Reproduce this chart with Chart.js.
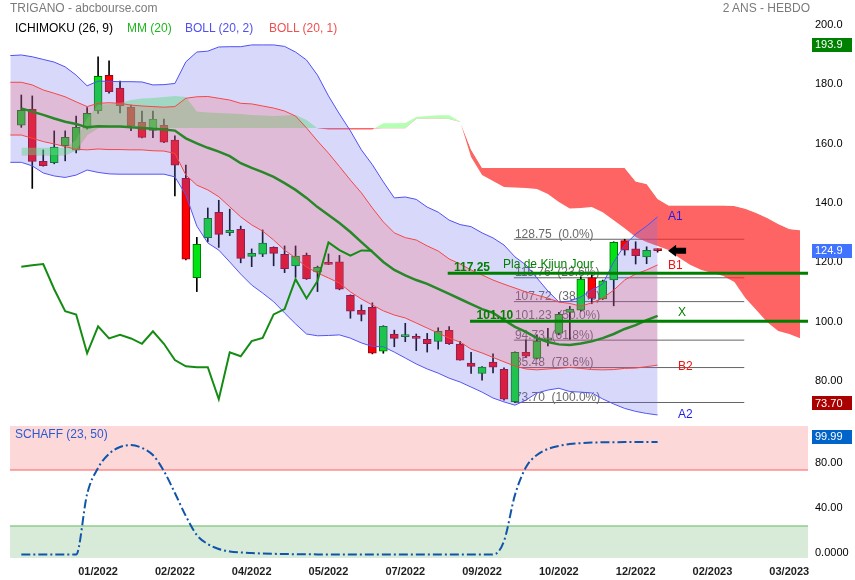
<!DOCTYPE html>
<html><head><meta charset="utf-8">
<script src="https://cdn.jsdelivr.net/npm/chart.js@4.4.0/dist/chart.umd.min.js"></script>
<style>
html,body{margin:0;padding:0;background:#fff;}
body{width:855px;height:580px;overflow:hidden;position:relative;font-family:"Liberation Sans",Arial,Helvetica,sans-serif;}
canvas{position:absolute;left:0;}
#cTop{top:0;}
#cBot{top:426px;}
.t{position:absolute;font-size:12px;line-height:14px;white-space:nowrap;}
</style></head><body>
<canvas id="cTop" width="855" height="426"></canvas>
<canvas id="cBot" width="855" height="154"></canvas>
<div class="t" style="left:10px;top:1px;color:#7a7a7a">TRIGANO - abcbourse.com</div>
<div class="t" style="right:45px;top:1px;color:#7a7a7a">2 ANS - HEBDO</div>
<div class="t" style="left:15px;top:21px;color:#000">ICHIMOKU (26, 9)</div>
<div class="t" style="left:127px;top:21px;color:#1cb81c">MM (20)</div>
<div class="t" style="left:185px;top:21px;color:#5050f0">BOLL (20, 2)</div>
<div class="t" style="left:269px;top:21px;color:#f05050">BOLL (20, 1)</div>
<div class="t" style="left:15px;top:427px;color:#2a5ad2">SCHAFF (23, 50)</div>
<script>
// ---------------- DATA ----------------
// weekly candles, index 0..58
const opens  = [167.2,172.6,155.0,154.6,160.3,158.8,166.2,172.1,184.0,179.7,173.3,168.2,165.5,167.2,162.2,149.3,115.8,129.3,137.8,131.0,132.1,123.0,123.7,126.0,123.7,119.8,123.3,117.7,120.8,121.1,109.8,104.8,105.8,91.0,96.8,95.9,95.8,95.0,94.3,98.0,93.4,87.0,83.5,87.3,84.9,74.0,90.6,88.6,94.8,97.0,104.1,104.8,115.8,108.6,115.0,128.3,125.5,122.8,125.0];
const highs  = [177.4,177.1,158.9,165.3,165.3,170.3,173.2,190.3,188.9,182.1,174.0,172.0,172.0,169.3,163.6,153.8,129.4,139.3,141.9,138.9,133.2,125.5,131.9,126.2,126.5,126.5,124.1,119.7,123.8,123.3,110.0,106.6,107.3,99.6,98.1,100.4,96.8,97.0,98.9,99.3,94.3,90.6,85.8,90.1,85.4,90.8,94.8,96.5,98.7,104.1,106.1,116.1,116.7,115.0,127.9,128.75,127.9,126.2,125.5];
const lows   = [166.5,145.9,153.4,154.2,155.2,157.9,165.9,171.2,178.0,171.4,165.4,162.9,163.0,161.3,143.4,121.8,111.1,127.9,126.0,130.0,120.8,119.5,122.9,119.8,117.5,115.9,115.2,111.1,120.2,111.7,102.1,101.2,90.1,90.3,92.5,94.2,91.2,90.7,91.7,93.3,88.0,83.5,81.2,83.7,74.5,73.7,89.0,88.4,92.8,96.5,95.0,104.5,107.0,108.4,106.3,123.4,120.4,120.5,124.4];
const closes = [172.2,155.0,153.6,159.8,163.1,166.5,171.2,183.7,178.5,173.8,167.0,163.1,169.2,161.5,153.7,122.0,127.0,135.8,130.4,131.8,122.3,124.0,127.5,124.0,118.8,123.1,115.4,119.3,120.3,111.9,104.5,103.4,90.3,99.4,95.3,96.5,95.3,93.5,97.7,93.5,88.0,85.9,85.6,85.6,74.8,90.6,89.3,94.4,95.5,103.4,105.2,115.3,108.8,114.7,127.7,125.1,123.2,125.0,124.9];

// Bollinger bands, index -1..58
const bandStart = -1;
const bollUp2 = [190.7,190.9,190.3,189.4,188.5,186.9,184.1,180.5,182.1,182.0,181.9,181.9,181.8,180.8,180.9,181.3,188.6,191.9,192.2,193.6,193.7,193.7,194.3,194.3,194.3,193.8,191.9,189.2,184.1,177.1,171.0,165.3,158.9,153.9,148.1,142.7,143.0,142.2,139.6,137.9,135.2,133.7,133.0,130.9,129.2,126.8,122.8,120.1,115.7,111.3,107.6,107.9,109.3,111.6,113.7,121.1,126.8,130.5,133.2,136.3];
const bollLo2 = [154.7,154.7,153.5,151.1,150.1,149.6,150.4,152.1,151.3,150.8,150.7,150.7,150.7,150.7,150.7,149.8,143.7,133.2,127.5,125.1,121.1,117.0,113.3,110.6,107.7,103.9,100.2,96.8,96.2,96.3,96.5,95.4,93.8,92.6,92.5,90.7,88.7,86.7,85.0,83.6,81.9,80.6,78.9,77.2,75.2,73.9,72.8,74.5,76.9,77.9,78.5,77.4,77.2,76.9,74.9,73.2,71.7,70.7,70.0,69.5];
const bollUp1 = [181.7,181.7,180.8,179.1,178.0,176.8,175.1,173.5,174.6,174.8,174.6,174.0,173.7,173.5,173.3,173.5,176.3,176.8,176.9,176.3,175.7,174.6,174.4,173.7,173.0,172.0,170.3,166.3,161.9,157.8,153.3,148.7,144.4,139.3,134.6,130.9,129.3,128.5,126.5,124.8,122.1,120.4,118.4,116.7,115.0,113.6,112.3,111.0,109.9,108.9,107.6,107.1,106.2,107.3,108.9,111.6,115.0,117.0,118.4,120.1];
const bollLo1 = [163.9,163.9,162.8,161.7,160.9,160.0,159.1,158.9,159.2,159.0,159.0,158.9,158.9,158.6,158.5,157.7,150.4,147.0,145.4,143.1,139.7,136.3,133.6,131.5,128.5,125.1,122.4,119.4,117.4,115.7,114.0,111.0,108.6,106.6,104.6,103.2,102.2,100.5,98.8,97.1,95.4,94.1,91.7,90.4,88.9,87.4,86.0,85.0,84.7,85.0,85.2,85.5,85.2,84.8,84.7,84.8,85.2,85.3,85.8,86.3];
// MM(20), index 0..58
const mm20 = [172.9,171.8,170.7,169.5,168.4,167.6,166.5,166.9,166.8,166.8,166.5,166.3,166.0,165.8,165.4,162.8,161.1,159.6,158.3,156.8,154.4,152.8,151.4,149.8,147.7,145.4,142.7,139.6,136.9,134.2,131.2,127.8,124.5,121.1,118.4,116.6,115.0,113.7,112.0,110.3,108.6,106.9,105.2,103.9,101.5,99.2,97.5,95.4,94.1,93.3,93.1,93.6,94.3,95.4,96.8,98.5,99.8,101.5,102.9];
// Ichimoku: chikou (index 0..32), senkou A / B (index 0..71)
const chikou = [119.5,120.0,120.4,111.9,104.5,103.4,90.3,99.4,95.3,96.5,95.3,93.5,97.7,93.5,88.0,85.9,85.6,85.6,74.8,90.6,89.3,94.4,95.5,103.4,105.2,115.3,108.8,114.7,127.7,125.1,123.2,125.0,124.9];
const senkouA = [159.6,159.6,159.6,159.6,159.6,162.2,169.6,174.0,174.4,174.7,175.7,176.2,176.4,176.7,177.1,176.7,171.8,171.5,171.3,171.2,171.0,170.7,170.5,170.3,170.5,170.7,169.0,166.2,165.8,165.8,165.8,165.8,165.8,167.9,167.9,168.0,170.0,170.3,170.6,170.6,168.5,156.5,150.4,148.4,146.4,146.2,146.0,145.7,144.0,141.3,139.1,139.3,139.6,137.9,135.2,132.5,129.5,127.8,126.5,125.1,122.4,120.1,118.4,117.4,116.4,114.3,108.9,104.9,100.8,97.8,96.8,95.4];
const senkouB = [157.1,157.1,157.1,157.1,157.1,158.8,163.9,166.3,166.3,166.3,166.3,166.3,166.3,166.3,166.3,166.3,166.3,166.3,166.3,166.3,166.3,166.3,166.3,166.3,166.3,166.3,166.3,166.3,166.3,166.3,166.3,166.3,166.3,166.2,166.2,166.2,169.3,169.5,169.5,169.3,168.3,158.9,152.8,152.8,152.8,152.8,152.8,152.8,152.8,152.8,152.8,152.8,152.8,152.8,152.8,152.8,148.2,147.4,142.3,140.1,140.1,140.1,140.1,140.1,140.1,140.0,139.0,137.6,135.9,133.9,132.2,131.8];
// Schaff (23,50), index 0..58
const schaff = [0,0,0,0,0,0,53.8,77,89.5,95.6,97.3,94.7,88.4,74.2,54.7,34.2,17.3,9.3,4.9,2.7,1.8,1.3,0.9,0.6,0.4,0.3,0.2,0.1,0,0,0,0,0,0,0,0,0,0,0,0,0,0,0,0,12,53,77.5,88.5,93.8,96.5,98.2,99.0,99.5,99.7,99.8,99.9,99.95,99.98,99.99];

// Fibonacci retracement
const fibLevels = [128.75,115.76,107.72,101.23,94.73,85.48,73.70];
const fibPct    = ['0.0%','23.6%','38.2%','50.0%','61.8%','78.6%','100.0%'];
// Kijun lines
const kijunLevels = [117.25,101.10];
const kijunLabels = ['117.25','101.10'];
const kijunName = 'Pla de Kijun Jour';
// value tags
const tagHigh = 193.9, tagLast = 124.9, tagLow = 73.70, tagSchaff = 99.99;
// axis ticks
const priceTicks = [80,100,120,140,160,180,200];
const priceTickLabels = ['80.00','100.0','120.0','140.0','160.0','180.0','200.0'];
const schaffTicks = [0,40,80];
const schaffTickLabels = ['0.0000','40.00','80.00'];
const schaffZones = [25,75];
const dateTickIdx = [7,14,21,28,35,42,49,56,63,70];
const dateLabels = ['01/2022','02/2022','04/2022','05/2022','07/2022','09/2022','10/2022','12/2022','02/2023','03/2023'];

// ---------------- LAYOUT / STYLE ----------------
const FONT = '"Liberation Sans", Arial, Helvetica, sans-serif';
Chart.defaults.font.family = FONT;
const X_MIN = -1.03, X_MAX = 71.71;
const LAY = {fibFrom:44.9, fibTo:65.9, kijunFrom:[38.87,40.9], kijunTextX:[39.44,41.5], kijunNameX:43.91};
const GREEN='rgb(0,228,20)', GREEN_B='rgb(0,115,0)', RED='rgb(255,0,0)', RED_B='rgb(150,0,25)';

const pts = (arr, start) => arr.map((v,i)=>({x:start+i, y:v}));
const lineDs = (data, color, width, order, extra) => Object.assign({type:'line', data, borderColor:color, borderWidth:width, pointRadius:0, pointHoverRadius:0, tension:0, fill:false, order}, extra||{});
const up = closes.map((c,i)=>c>=opens[i]);

const datasets = [
  {type:'bar', data: closes.map((c,i)=>({x:i, y:[lows[i],highs[i]]})), backgroundColor:'#000', borderWidth:0, barThickness:1, grouped:false, order:100},
  {type:'bar', data: closes.map((c,i)=>({x:i, y:[opens[i],c]})), backgroundColor: up.map(u=>u?GREEN:RED), borderColor: up.map(u=>u?GREEN_B:RED_B), borderWidth:1, borderSkipped:false, barThickness:8, minBarLength:2, grouped:false, order:90},
  lineDs(pts(senkouB,0),'rgba(0,0,0,0)',0,81),
  lineDs(pts(senkouA,0),'rgba(0,0,0,0)',0,80,{fill:{target:2, above:'rgba(90,255,90,0.45)', below:'rgba(255,40,40,0.72)'}}),
  lineDs(pts(bollLo2,bandStart),'rgb(80,80,245)',1,71),
  lineDs(pts(bollUp2,bandStart),'rgb(80,80,245)',1,70,{fill:{target:4, above:'rgba(110,110,240,0.27)', below:'rgba(110,110,240,0.27)'}}),
  lineDs(pts(bollLo1,bandStart),'rgb(245,70,70)',1,61),
  lineDs(pts(bollUp1,bandStart),'rgb(245,70,70)',1,60,{fill:{target:6, above:'rgba(255,70,70,0.2)', below:'rgba(255,70,70,0.2)'}}),
  lineDs(pts(mm20,0),'rgb(40,135,40)',2.5,50),
  lineDs(pts(chikou,0),'rgb(20,140,20)',2,49),
];
fibLevels.forEach(lv=>datasets.push(lineDs([{x:LAY.fibFrom,y:lv},{x:LAY.fibTo,y:lv}],'rgb(100,100,100)',1,200)));
kijunLevels.forEach((lv,k)=>datasets.push(lineDs([{x:LAY.kijunFrom[k],y:lv},{x:X_MAX,y:lv}],'rgb(0,128,0)',3,10)));

function drawTag(ctx, yc, text, bg){
  ctx.fillStyle=bg; ctx.fillRect(812, Math.round(yc-7), 40, 14);
  ctx.fillStyle='#fff'; ctx.font='11px '+FONT; ctx.textAlign='left'; ctx.textBaseline='middle';
  ctx.fillText(text, 815, yc+0.5);
}

const topAnno = {
  id:'topAnno',
  beforeDatasetsDraw(chart){
    const ctx=chart.ctx, xs=chart.scales.x, ys=chart.scales.y;
    ctx.save();
    ctx.font='12px '+FONT; ctx.fillStyle='rgb(105,105,105)'; ctx.textAlign='left'; ctx.textBaseline='alphabetic';
    const fx = xs.getPixelForValue(LAY.fibFrom)+1;
    fibLevels.forEach((lv,k)=>ctx.fillText(lv.toFixed(2)+'  ('+fibPct[k]+')', fx, ys.getPixelForValue(lv)-1.5));
    ctx.restore();
  },
  afterDatasetsDraw(chart){
    const ctx=chart.ctx, xs=chart.scales.x, ys=chart.scales.y;
    ctx.save();
    ctx.textAlign='left'; ctx.textBaseline='alphabetic';
    ctx.fillStyle='rgb(0,128,0)';
    ctx.font='bold 12px '+FONT;
    kijunLevels.forEach((lv,k)=>ctx.fillText(kijunLabels[k], xs.getPixelForValue(LAY.kijunTextX[k]), ys.getPixelForValue(lv)-2.5));
    ctx.font='12px '+FONT;
    ctx.fillText(kijunName, xs.getPixelForValue(LAY.kijunNameX), ys.getPixelForValue(kijunLevels[0])-5);
    // end labels
    const last = closes.length-1;
    const xe = xs.getPixelForValue(last);
    const ends = [
      ['A1', bollUp2[bollUp2.length-1], 'rgb(30,30,230)', 10.5, 0],
      ['B1', bollUp1[bollUp1.length-1], 'rgb(240,20,20)', 10.5, 0.5],
      ['X',  mm20[mm20.length-1], 'rgb(0,128,0)', 20.5, -3.5],
      ['B2', bollLo1[bollLo1.length-1], 'rgb(240,20,20)', 20.5, 1.5],
      ['A2', bollLo2[bollLo2.length-1], 'rgb(30,30,230)', 20.5, -0.5],
    ];
    ctx.textBaseline='middle';
    ends.forEach(e=>{ctx.fillStyle=e[2]; ctx.fillText(e[0], xe+e[3], ys.getPixelForValue(e[1])+e[4]);});
    // arrow
    const ya = ys.getPixelForValue(closes[last]);
    const xa = xe+10.5;
    ctx.fillStyle='#000';
    ctx.beginPath();
    ctx.moveTo(xa, ya); ctx.lineTo(xa+8, ya-6); ctx.lineTo(xa+8, ya-3); ctx.lineTo(xa+18, ya-3);
    ctx.lineTo(xa+18, ya+3); ctx.lineTo(xa+8, ya+3); ctx.lineTo(xa+8, ya+6); ctx.closePath(); ctx.fill();
    // value tags
    drawTag(ctx, ys.getPixelForValue(tagHigh)-1.5, tagHigh.toFixed(1), 'rgb(0,128,0)');
    drawTag(ctx, ys.getPixelForValue(tagLast), tagLast.toFixed(1), 'rgb(64,115,255)');
    drawTag(ctx, ys.getPixelForValue(tagLow)+1, tagLow.toFixed(2), 'rgb(170,0,0)');
    ctx.restore();
  }
};

new Chart(document.getElementById('cTop'), {
  type:'bar',
  data:{datasets},
  options:{
    responsive:false, animation:false, devicePixelRatio:1,
    layout:{padding:{left:10,top:16,right:0,bottom:0}, autoPadding:false},
    plugins:{legend:{display:false}, tooltip:{enabled:false}},
    events:[],
    scales:{
      x:{type:'linear', display:false, min:X_MIN, max:X_MAX, offset:false},
      y:{type:'linear', position:'right', min:65.77, max:204.05,
         grid:{display:false, drawTicks:false}, border:{display:false},
         ticks:{padding:7, labelOffset:-3, color:'#000', font:{size:11}, callback:(v,i)=>priceTickLabels[i]},
         afterBuildTicks:s=>{s.ticks=priceTicks.map(v=>({value:v}));},
         afterFit:s=>{s.width=47; s.paddingTop=0; s.paddingBottom=0;}}
    }
  },
  plugins:[topAnno]
});

const botAnno = {
  id:'botAnno',
  beforeDatasetsDraw(chart){
    const ctx=chart.ctx, a=chart.chartArea, ys=chart.scales.y;
    const yHi=ys.getPixelForValue(schaffZones[1]), yLo=ys.getPixelForValue(schaffZones[0]);
    ctx.save();
    ctx.fillStyle='rgb(253,216,216)'; ctx.fillRect(a.left,a.top,a.right-a.left,yHi-a.top);
    ctx.fillStyle='rgb(216,235,216)'; ctx.fillRect(a.left,yLo,a.right-a.left,a.bottom-yLo);
    ctx.fillStyle='rgb(255,95,95)'; ctx.fillRect(a.left,Math.round(yHi)-0.5,a.right-a.left,1);
    ctx.fillStyle='rgb(95,180,95)'; ctx.fillRect(a.left,Math.round(yLo)-0.5,a.right-a.left,1);
    ctx.restore();
  },
  afterDatasetsDraw(chart){
    const ctx=chart.ctx, ys=chart.scales.y;
    ctx.save();
    drawTag(ctx, ys.getPixelForValue(tagSchaff)-5.5, tagSchaff.toFixed(2), 'rgb(0,100,200)');
    ctx.restore();
  }
};

new Chart(document.getElementById('cBot'), {
  type:'line',
  data:{datasets:[{data:pts(schaff,0), borderColor:'rgb(15,85,170)', borderWidth:2, borderDash:[9,3,2,3], pointRadius:0, cubicInterpolationMode:'monotone', fill:false}]},
  options:{
    responsive:false, animation:false, devicePixelRatio:1,
    layout:{padding:{left:10,top:0,right:0,bottom:0}, autoPadding:false},
    plugins:{legend:{display:false}, tooltip:{enabled:false}},
    events:[],
    scales:{
      x:{type:'linear', min:X_MIN, max:X_MAX, offset:false, grid:{display:false, drawTicks:false}, border:{display:false},
         ticks:{padding:7, color:'#1e1e1e', font:{size:11, weight:'bold'}, maxRotation:0, autoSkip:false, callback:(v,i)=>dateLabels[i]},
         afterBuildTicks:s=>{s.ticks=dateTickIdx.map(v=>({value:v}));},
         afterFit:s=>{s.height=22; s.paddingLeft=0; s.paddingRight=0;}},
      y:{type:'linear', position:'right', min:-3.11, max:114.22,
         grid:{display:false, drawTicks:false}, border:{display:false},
         ticks:{padding:7, labelOffset:-2, color:'#000', font:{size:11}, callback:(v,i)=>schaffTickLabels[i]},
         afterBuildTicks:s=>{s.ticks=schaffTicks.map(v=>({value:v}));},
         afterFit:s=>{s.width=47; s.paddingTop=0; s.paddingBottom=0;}}
    }
  },
  plugins:[botAnno]
});
</script>
</body></html>
